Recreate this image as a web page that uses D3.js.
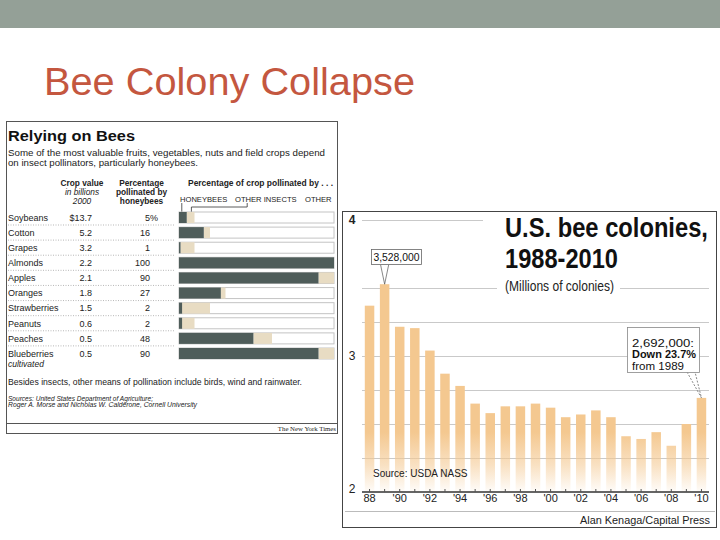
<!DOCTYPE html>
<html><head><meta charset="utf-8">
<script src="https://cdn.jsdelivr.net/npm/d3@7"></script>
<style>
html,body{margin:0;padding:0;background:#fff;}
svg{display:block;font-family:"Liberation Sans",Arial,sans-serif;}
</style></head>
<body><svg id="c" width="720" height="540"></svg>
<script>
// ---------- data ----------
const crops = ["Soybeans","Cotton","Grapes","Almonds","Apples","Oranges","Strawberries","Peanuts","Peaches","Blueberries"];
const cropValue = [13.7,5.2,3.2,2.2,2.1,1.8,1.5,0.6,0.5,0.5];
const honeybeePct = [5,16,1,100,90,27,2,2,48,90];
const otherInsectPct = [5,4,9,0,10,3,18,8,12,10];

const years = [1988,1989,1990,1991,1992,1993,1994,1995,1996,1997,1998,1999,2000,2001,2002,2003,2004,2005,2006,2007,2008,2009,2010];
const colonies = [3.37,3.528,3.215,3.205,3.04,2.87,2.78,2.65,2.58,2.63,2.63,2.65,2.62,2.55,2.57,2.60,2.55,2.41,2.39,2.44,2.34,2.50,2.692];
const yTickValues = [2,3,4];
const gridValues = [2.25,2.5,2.75,3,3.25,3.5,4];
const xTickLabels = {1988:"88",1990:"'90",1992:"'92",1994:"'94",1996:"'96",1998:"'98",2000:"'00",2002:"'02",2004:"'04",2006:"'06",2008:"'08",2010:"'10"};

const svg = d3.select("#c");

// ---------- slide chrome ----------
svg.append("rect").attr("x",0).attr("y",0).attr("width",720).attr("height",28).attr("fill","#94a097");
svg.append("text").attr("x",44).attr("y",95).attr("font-size",38).attr("fill","#c4573f")
  .attr("textLength",371).attr("lengthAdjust","spacingAndGlyphs").text("Bee Colony Collapse");

// ---------- left panel ----------
const L = svg.append("g");
L.append("rect").attr("x",6.5).attr("y",121.5).attr("width",331).attr("height",312).attr("fill","#fff").attr("stroke","#555").attr("stroke-width",1);
L.append("text").attr("x",8).attr("y",141).attr("font-size",14.5).attr("font-weight","bold").attr("fill","#111")
  .attr("textLength",127).attr("lengthAdjust","spacingAndGlyphs").text("Relying on Bees");
L.append("text").attr("x",8).attr("y",156).attr("font-size",9.8).attr("fill","#222")
  .attr("textLength",317).attr("lengthAdjust","spacingAndGlyphs").text("Some of the most valuable fruits, vegetables, nuts and field crops depend");
L.append("text").attr("x",8).attr("y",166).attr("font-size",9.8).attr("fill","#222")
  .attr("textLength",190).attr("lengthAdjust","spacingAndGlyphs").text("on insect pollinators, particularly honeybees.");

const hdr = (x,y,t,opts={}) => L.append("text").attr("x",x).attr("y",y).attr("font-size",opts.fs||8.3)
  .attr("text-anchor",opts.anchor||"middle").attr("font-weight",opts.bold?"bold":"normal")
  .attr("font-style",opts.italic?"italic":"normal").attr("fill","#222").text(t);
hdr(82,186,"Crop value",{bold:true});
hdr(82,195,"in billions",{italic:true});
hdr(82,203.5,"2000",{italic:true});
hdr(141.5,186,"Percentage",{bold:true});
hdr(141.5,195,"pollinated by",{bold:true});
hdr(141.5,204,"honeybees",{bold:true});
L.append("text").attr("x",188).attr("y",186).attr("font-size",8.3).attr("font-weight","bold").attr("fill","#222")
  .attr("textLength",145).attr("lengthAdjust","spacingAndGlyphs").text("Percentage of crop pollinated by . . .");
hdr(180,201.5,"HONEYBEES",{anchor:"start",fs:7.6});
hdr(235,201.5,"OTHER INSECTS",{anchor:"start",fs:7.6});
hdr(305,201.5,"OTHER",{anchor:"start",fs:7.6});

const px = d3.scaleLinear().domain([0,100]).range([179,334]);
const ry = d3.scalePoint().domain(crops).range([217.5,353.5]);
const bh = 11;

// leader lines
L.append("path").attr("d",`M${px(1.8)},203 V${ry("Soybeans")-bh/2}`).attr("stroke","#333").attr("fill","none").attr("stroke-width",0.8);
L.append("path").attr("d",`M${px(44)},203 V207 H${px(8)} V${ry("Soybeans")-bh/2}`).attr("stroke","#333").attr("fill","none").attr("stroke-width",0.8);

const rows = L.selectAll("g.row").data(crops).join("g").attr("class","row");
rows.append("rect").attr("x",px(0)).attr("y",d=>ry(d)-bh/2).attr("width",px(100)-px(0)).attr("height",bh)
  .attr("fill","#fff").attr("stroke","#c4c4c4").attr("stroke-width",1);
rows.append("rect").attr("x",(d,i)=>px(honeybeePct[i])).attr("y",d=>ry(d)-bh/2)
  .attr("width",(d,i)=>px(honeybeePct[i]+otherInsectPct[i])-px(honeybeePct[i])).attr("height",bh).attr("fill","#e8dcc3");
rows.append("rect").attr("x",px(0)).attr("y",d=>ry(d)-bh/2)
  .attr("width",(d,i)=>px(honeybeePct[i])-px(0)).attr("height",bh).attr("fill","#4f5d5a");
rows.append("text").attr("x",8).attr("y",d=>ry(d)+3.3).attr("font-size",9).attr("fill","#222").text(d=>d);
rows.append("text").attr("x",92).attr("y",d=>ry(d)+3.3).attr("font-size",9).attr("text-anchor","end").attr("fill","#222")
  .text((d,i)=> i===0 ? "$"+cropValue[i].toFixed(1) : cropValue[i].toFixed(1));
rows.append("text").attr("x",150).attr("y",d=>ry(d)+3.3).attr("font-size",9).attr("text-anchor","end").attr("fill","#222")
  .text((d,i)=>honeybeePct[i]);
L.append("text").attr("x",150).attr("y",ry("Soybeans")+3.3).attr("font-size",9).attr("fill","#222").text("%");
L.append("text").attr("x",8).attr("y",ry("Blueberries")+13).attr("font-size",8.5).attr("font-style","italic").attr("fill","#222").text("cultivated");
// dotted separators
L.selectAll("line.sep").data(crops.slice(0,-1)).join("line").attr("class","sep")
  .attr("x1",8).attr("x2",175).attr("y1",d=>ry(d)+7.5).attr("y2",d=>ry(d)+7.5)
  .attr("stroke","#999").attr("stroke-width",0.7).attr("stroke-dasharray","1,1.5");

L.append("text").attr("x",8).attr("y",385).attr("font-size",9.5).attr("fill","#222")
  .attr("textLength",294).attr("lengthAdjust","spacingAndGlyphs").text("Besides insects, other means of pollination include birds, wind and rainwater.");
L.append("text").attr("x",8).attr("y",400.5).attr("font-size",6.6).attr("font-style","italic").attr("fill","#222")
  .attr("textLength",145).attr("lengthAdjust","spacingAndGlyphs").text("Sources: United States Department of Agriculture;");
L.append("text").attr("x",8).attr("y",407).attr("font-size",6.6).attr("font-style","italic").attr("fill","#222")
  .attr("textLength",189).attr("lengthAdjust","spacingAndGlyphs").text("Roger A. Morse and Nicholas W. Calderone, Cornell University");
L.append("line").attr("x1",6.5).attr("x2",337.5).attr("y1",423.5).attr("y2",423.5).attr("stroke","#555");
L.append("text").attr("x",336).attr("y",430.5).attr("font-size",6.8).attr("text-anchor","end").attr("fill","#222")
  .attr("font-family","'Liberation Serif','Times New Roman',serif").text("The New York Times");

// ---------- right panel ----------
const R = svg.append("g");
R.append("rect").attr("x",342.5).attr("y",211.5).attr("width",374).attr("height",316).attr("fill","#fff").attr("stroke","#444").attr("stroke-width",1);

const x = d3.scaleBand().domain(years).range([362,709]).paddingInner(0.37).paddingOuter(0.185);
const y = d3.scaleLinear().domain([2,4]).range([492,220]);

// gridlines
const gridSegs = gridValues.flatMap(v => v===4 ? [[362,483,v]] : v===3.5 ? [[362,497,v],[620,709,v]] : [[362,709,v]]);
R.selectAll("line.grid").data(gridSegs).join("line").attr("class","grid")
  .attr("x1",d=>d[0]).attr("x2",d=>d[1]).attr("y1",d=>Math.round(y(d[2]))+0.5).attr("y2",d=>Math.round(y(d[2]))+0.5)
  .attr("stroke","#c9c9c9").attr("stroke-width",1);

// gradient for bars
const defs = svg.append("defs");
const grad = defs.append("linearGradient").attr("id","barGrad").attr("gradientUnits","userSpaceOnUse")
  .attr("x1",0).attr("x2",0).attr("y1",432).attr("y2",492);
grad.append("stop").attr("offset",0).attr("stop-color","#f4c890").attr("stop-opacity",1);
grad.append("stop").attr("offset",0.55).attr("stop-color","#f4c890").attr("stop-opacity",0.55);
grad.append("stop").attr("offset",1).attr("stop-color","#f4c890").attr("stop-opacity",0.05);

R.selectAll("rect.bar").data(years).join("rect").attr("class","bar")
  .attr("x",d=>x(d)).attr("width",x.bandwidth())
  .attr("y",(d,i)=>y(colonies[i])).attr("height",(d,i)=>y(2)-y(colonies[i]))
  .attr("fill","url(#barGrad)");

// axis
const xAxis = d3.axisBottom(x).tickSize(3).tickFormat(d=>xTickLabels[d]||"");
const ax = R.append("g").attr("transform","translate(0,492)").call(xAxis);
ax.select(".domain").attr("d","M362,0H709").attr("stroke","#333").attr("stroke-width",1.5);
ax.selectAll(".tick line").attr("stroke","#555").attr("y2",-3);
ax.selectAll(".tick text").attr("font-size",11).attr("fill","#222").attr("dy","0.4em")
  .attr("font-family","'Liberation Sans',Arial,sans-serif");

R.selectAll("text.ylab").data(yTickValues).join("text").attr("class","ylab")
  .attr("x",352).attr("y",d=>y(d)+(d===2?1:4)).attr("text-anchor","middle").attr("font-size",12).attr("fill","#222")
  .attr("font-weight",d=>d===4?"bold":"normal").text(d=>d);

R.append("text").attr("x",373).attr("y",477).attr("font-size",10).attr("fill","#222").text("Source: USDA NASS");
R.append("line").attr("x1",345).attr("x2",715).attr("y1",511.5).attr("y2",511.5).attr("stroke","#bbb");
R.append("text").attr("x",710).attr("y",524).attr("font-size",10.5).attr("text-anchor","end").attr("fill","#222")
  .attr("textLength",130).attr("lengthAdjust","spacingAndGlyphs").text("Alan Kenaga/Capital Press");

// titles: condensed look via vertical stretch, natural width fitted
function condensedTitle(tx, ty, txt, targetW, targetFs) {
  const t = R.append("text").attr("font-size",20).attr("font-weight","bold").attr("fill","#111").text(txt);
  const w20 = t.node().getComputedTextLength();
  const fs = 20 * targetW / w20;
  t.attr("font-size",fs).attr("transform",`translate(${tx},${ty}) scale(1,${targetFs/fs})`);
}
condensedTitle(505, 237, "U.S. bee colonies,", 203, 28);
condensedTitle(505, 268, "1988-2010", 113, 28);
R.append("text").attr("x",505).attr("y",291).attr("font-size",14).attr("fill","#222")
  .attr("textLength",109).attr("lengthAdjust","spacingAndGlyphs").text("(Millions of colonies)");

// annotation 1989
const x89 = x(1989)+x.bandwidth()/2, y89 = y(colonies[1]);
R.append("path").attr("d",`M${x89-4},265 L${x89},${y89} L${x89+4},265`).attr("fill","none").attr("stroke","#555").attr("stroke-width",0.7);
R.append("rect").attr("x",371.5).attr("y",249.5).attr("width",50).attr("height",15).attr("fill","#fff").attr("stroke","#666").attr("stroke-width",0.8);
R.append("text").attr("x",396.5).attr("y",261).attr("text-anchor","middle").attr("font-size",11).attr("fill","#111")
  .attr("textLength",46).attr("lengthAdjust","spacingAndGlyphs").text("3,528,000");

// annotation 2010
const x10 = x(2010)+x.bandwidth()/2, y10 = y(colonies[22]);
R.append("path").attr("d",`M687,372 L${x10},${y10} L695,372`).attr("fill","none").attr("stroke","#555").attr("stroke-width",0.7).attr("stroke-dasharray","2,1.5");
R.append("rect").attr("x",627.5).attr("y",327.5).attr("width",72).attr("height",45).attr("fill","#fff").attr("stroke","#888").attr("stroke-width",0.8);
R.append("text").attr("x",632).attr("y",346.5).attr("font-size",10.5).attr("fill","#111")
  .attr("textLength",62).attr("lengthAdjust","spacingAndGlyphs").text("2,692,000:");
R.append("text").attr("x",632).attr("y",358).attr("font-size",10.5).attr("font-weight","bold").attr("fill","#111")
  .attr("textLength",64).attr("lengthAdjust","spacingAndGlyphs").text("Down 23.7%");
R.append("text").attr("x",632).attr("y",369.5).attr("font-size",10.5).attr("fill","#111")
  .attr("textLength",52).attr("lengthAdjust","spacingAndGlyphs").text("from 1989");
</script></body></html>
